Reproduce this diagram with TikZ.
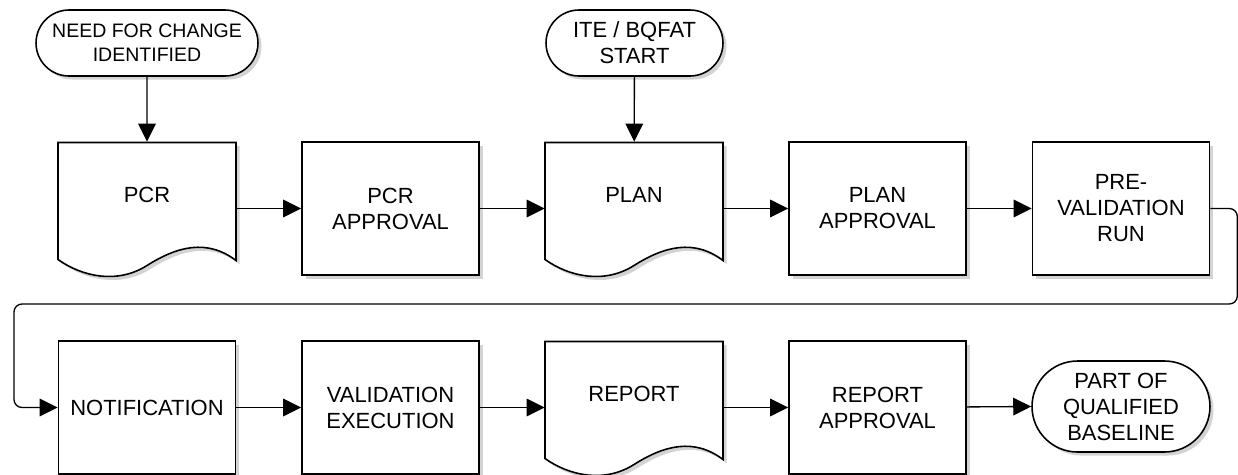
\documentclass[tikz,border=0pt]{standalone}
\usepackage{fontspec}
\setmainfont{Liberation Sans}
\usetikzlibrary{arrows.meta,shapes.misc,shadows}

\tikzset{
  every node/.style={font=\fontsize{12.5}{14.8}\selectfont, align=center},
  boxshadow/.style={drop shadow={shadow xshift=2pt, shadow yshift=-2pt, opacity=0.35}},
  procbox/.style={draw, line width=0.9pt, fill=white, inner sep=0pt,
    minimum width=3.54cm, minimum height=2.66cm, boxshadow},
  docbox/.style={inner sep=0pt, minimum width=3.56cm, minimum height=2.66cm,
    text height=0.32cm, text depth=0.58cm},
  docline/.style={draw, line width=0.9pt, fill=white, boxshadow},
  termbox/.style={draw, rounded rectangle, line width=0.9pt, fill=white,
    inner sep=0pt, boxshadow},
  flow/.style={line width=0.75pt, -{Triangle[length=0.36cm,width=0.35cm]}},
}

% document symbol: outline first, then the (invisible) node on top
\newcommand{\docnode}[3]{%
  \path[docline, shift={(#2)}] (-89,51) -- (-89,-66) -- (89,-66) -- (89,52)
    .. controls (60,30) and (30,38) .. (0,57)
    .. controls (-30,76) and (-65,68) .. (-89,51) -- cycle;
  \node[docbox] (#1) at (#2) {#3};}

\begin{document}
\begin{tikzpicture}[x=0.02cm, y=-0.02cm]
  \useasboundingbox (0,0) rectangle (1238,474);

  % start points
  \node[termbox, minimum width=4.44cm, minimum height=1.32cm,
    font=\fontsize{11.1}{13.6}\selectfont] (need) at (147,43) {NEED FOR CHANGE\\IDENTIFIED};
  \node[termbox, minimum width=3.54cm, minimum height=1.32cm] (itestart) at (634.5,43) {ITE / BQFAT\\START};

  % first row
  \docnode{pcr}{147,208.5}{PCR}
  \node[procbox] (pcrapp) at (390.5,208.5) {PCR\\APPROVAL};
  \docnode{plan}{634,208.5}{PLAN}
  \node[procbox] (planapp) at (877.5,208.5) {PLAN\\APPROVAL};
  \node[procbox] (prerun) at (1121,208.5) {PRE-\\VALIDATION\\RUN};

  % second row
  \node[procbox] (notif) at (147,407.5) {NOTIFICATION};
  \node[procbox] (valexe) at (390.5,407.5) {VALIDATION\\EXECUTION};
  \docnode{report}{634,407.5}{REPORT}
  \node[procbox] (repapp) at (877.5,407.5) {REPORT\\APPROVAL};
  \node[termbox, minimum width=3.56cm, minimum height=1.82cm] (baseline) at (1121,406.5) {PART OF\\QUALIFIED\\BASELINE};

  % connectors
  \draw[flow] (need) -- (pcr);
  \draw[flow] (itestart) -- (plan);
  \draw[flow] (pcr) -- (pcrapp);
  \draw[flow] (pcrapp) -- (plan);
  \draw[flow] (plan) -- (planapp);
  \draw[flow] (planapp) -- (prerun);
  \coordinate (bend) at (14,304);
  \draw[flow, rounded corners=0.16cm] (prerun.east) -- ++(27,0) |- (bend) |- (notif.west);
  \draw[flow] (notif) -- (valexe);
  \draw[flow] (valexe) -- (report);
  \draw[flow] (report) -- (repapp);
  \draw[flow] (repapp) -- (baseline.west);
\end{tikzpicture}
\end{document}
